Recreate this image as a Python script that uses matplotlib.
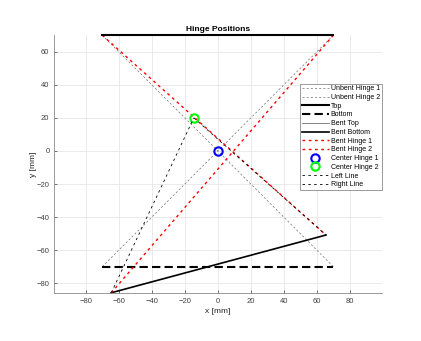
import numpy as np
import matplotlib
matplotlib.use('Agg')
import matplotlib.pyplot as plt

plt.rcParams['font.family'] = ['Liberation Sans', 'DejaVu Sans']

# square hinge frame (mm)
top_x = [-70, 70]
top_y = [70, 70]
bottom_x = [-70, 70]
bottom_y = [-70, -70]
# unbent diagonals
unbent1_x = [-70, 70]
unbent1_y = [70, -70]
unbent2_x = [70, -70]
unbent2_y = [70, -70]
# bent state
bent_top_x = [-70, 70]
bent_top_y = [70, 70]
bent_bottom_x = [-64.5, 65.5]
bent_bottom_y = [-85.7, -50.8]
bent1_x = [-70, 65.5]
bent1_y = [70, -50.8]
bent2_x = [70, -64.5]
bent2_y = [70, -85.7]
# hinge centres
center1 = [0, 0]
center2 = [-14.5, 20]
left_x = [-64.5, -14.5]
left_y = [-85.7, 20]
right_x = [-14.5, 65.5]
right_y = [20, -50.8]

fig = plt.figure(figsize=(4.21, 3.41), dpi=100)
ax = fig.add_axes([0.129, 0.140, 0.7775, 0.7574])

gray = '#707070'
ax.plot(unbent1_x, unbent1_y, color=gray, lw=0.5, dashes=(3, 3), label='Unbent Hinge 1')
ax.plot(unbent2_x, unbent2_y, color=gray, lw=0.5, dashes=(3, 3), label='Unbent Hinge 2')
ax.plot(top_x, top_y, color='k', lw=1.5, clip_on=False, zorder=3, label='Top')
ax.plot(bottom_x, bottom_y, color='k', lw=1.5, dashes=(4, 2), label='Bottom')
ax.plot(bent_top_x, bent_top_y, color=gray, lw=0.6, zorder=1.5, label='Bent Top')
ax.plot(bent_bottom_x, bent_bottom_y, color='k', lw=1.2, clip_on=False, label='Bent Bottom')
ax.plot(bent1_x, bent1_y, color='r', lw=1.0, dashes=(2, 2.5), label='Bent Hinge 1')
ax.plot(bent2_x, bent2_y, color='r', lw=1.0, dashes=(2, 2.5), label='Bent Hinge 2')
ax.plot(center1[0], center1[1], 'o', mfc='none', mec='b', ms=6, mew=1.5, label='Center Hinge 1')
ax.plot(center2[0], center2[1], 'o', mfc='none', mec='#00ff00', ms=6, mew=1.5, label='Center Hinge 2')
ax.plot(left_x, left_y, color='k', lw=0.6, dashes=(3, 4), label='Left Line')
ax.plot(right_x, right_y, color='k', lw=0.6, dashes=(3, 4), label='Right Line')

ax.set_xlim(-99, 99.2)
ax.set_ylim(-86, 70.1)
ax.set_xticks(np.arange(-80, 81, 20))
ax.set_yticks(np.arange(-80, 61, 20))
ax.grid(True, color='#e6e6e6', lw=0.6)
ax.set_axisbelow(True)
for s in ['top', 'right']:
    ax.spines[s].set_visible(False)
for s in ['left', 'bottom']:
    ax.spines[s].set_color('#8a8a8a')
    ax.spines[s].set_linewidth(0.6)
ax.tick_params(labelsize=5.5, colors='#404040', length=2, width=0.5, direction='in')
ax.set_xlabel('x [mm]', fontsize=6, color='#262626', labelpad=2)
ax.set_ylabel('y [mm]', fontsize=6, color='#262626', labelpad=0)
ax.set_title('Hinge Positions', fontsize=6, fontweight='bold', pad=3)

leg = ax.legend(loc='upper right', bbox_to_anchor=(1.0, 0.812), fontsize=5,
                frameon=True, fancybox=False, framealpha=1, edgecolor='#8a8a8a',
                handlelength=3.8, handletextpad=0.3, labelspacing=0.25,
                borderpad=0.25, borderaxespad=0)
leg.get_frame().set_linewidth(0.6)

fig.savefig('out.png', dpi=100)
